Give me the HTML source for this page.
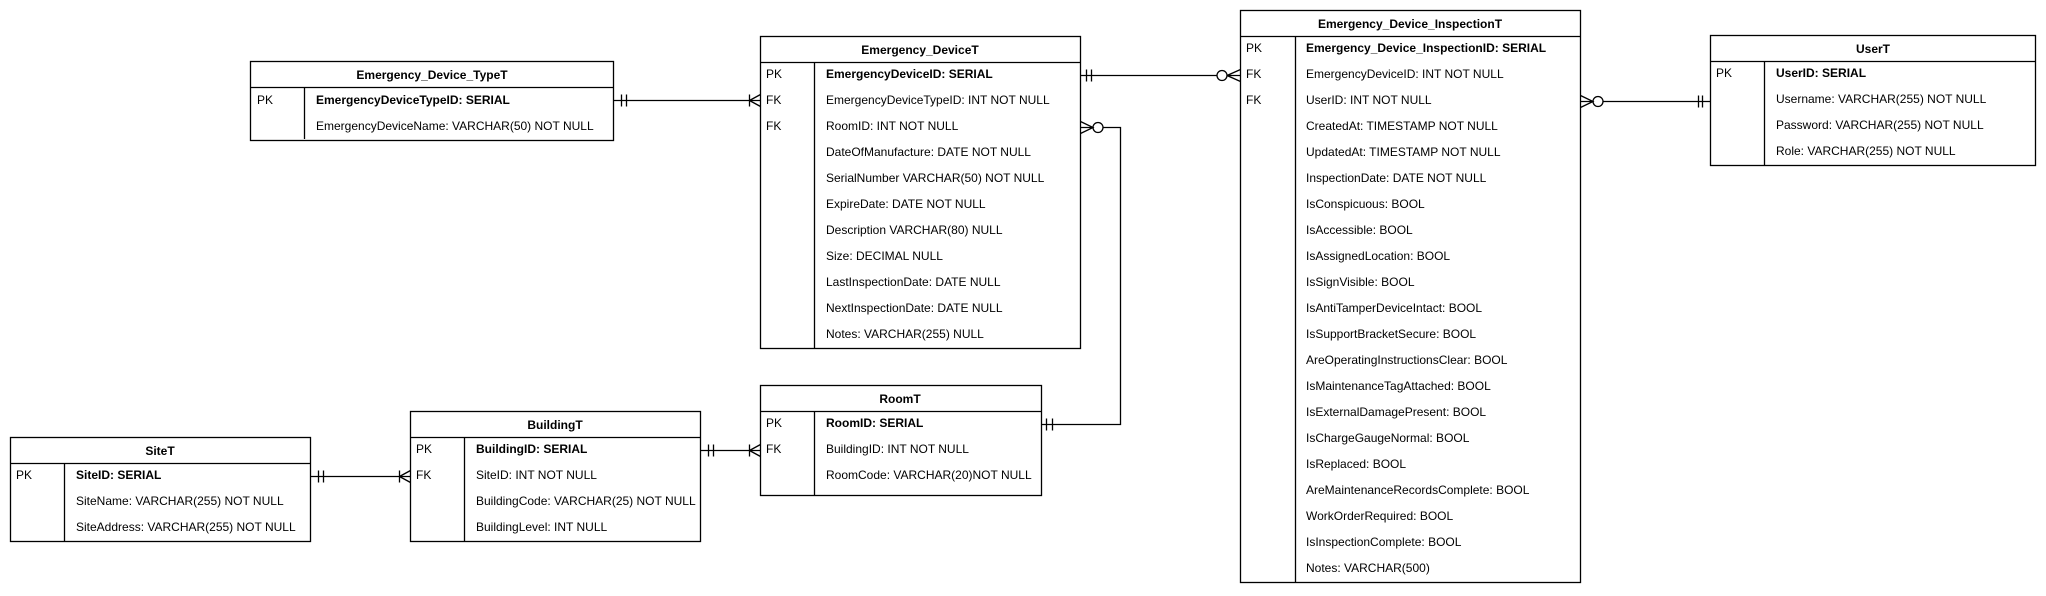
<!DOCTYPE html>
<html><head><meta charset="utf-8"><style>
html,body{margin:0;padding:0;background:#fff;}
svg{display:block;}
text{font-family:"Liberation Sans",Arial,sans-serif;font-size:12px;fill:#000;}
.b{font-weight:bold;}
</style></head><body>
<svg width="2046" height="596" viewBox="0 0 2046 596" xmlns="http://www.w3.org/2000/svg">
<g fill="none" stroke="#000" stroke-width="1.3">
<!-- Emergency_Device_TypeT -->
<rect x="250.5" y="61.5" width="363" height="79"/>
<line x1="250.5" y1="87.5" x2="613.5" y2="87.5"/>
<line x1="304.5" y1="87.5" x2="304.5" y2="139"/>
<!-- Emergency_DeviceT -->
<rect x="760.5" y="36.5" width="320" height="312"/>
<line x1="760.5" y1="62.5" x2="1080.5" y2="62.5"/>
<line x1="814.5" y1="62.5" x2="814.5" y2="348.5"/>
<!-- RoomT -->
<rect x="760.5" y="385.5" width="281" height="110"/>
<line x1="760.5" y1="411.5" x2="1041.5" y2="411.5"/>
<line x1="814.5" y1="411.5" x2="814.5" y2="495.5"/>
<!-- BuildingT -->
<rect x="410.5" y="411.5" width="290" height="130"/>
<line x1="410.5" y1="437.5" x2="700.5" y2="437.5"/>
<line x1="464.5" y1="437.5" x2="464.5" y2="541.5"/>
<!-- SiteT -->
<rect x="10.5" y="437.5" width="300" height="104"/>
<line x1="10.5" y1="463.5" x2="310.5" y2="463.5"/>
<line x1="64.5" y1="463.5" x2="64.5" y2="541.5"/>
<!-- InspectionT -->
<rect x="1240.5" y="10.5" width="340" height="572"/>
<line x1="1240.5" y1="36.5" x2="1580.5" y2="36.5"/>
<line x1="1295.5" y1="36.5" x2="1295.5" y2="582.5"/>
<!-- UserT -->
<rect x="1710.5" y="35.5" width="325" height="130"/>
<line x1="1710.5" y1="61.5" x2="2035.5" y2="61.5"/>
<line x1="1764.5" y1="61.5" x2="1764.5" y2="165.5"/>

<!-- connector 1 TypeT -> DeviceT -->
<line x1="613.5" y1="100.5" x2="760.5" y2="100.5"/>
<line x1="621.5" y1="94.5" x2="621.5" y2="106.5"/><line x1="626.5" y1="94.5" x2="626.5" y2="106.5"/>
<line x1="749.5" y1="94.5" x2="749.5" y2="106.5"/>
<path d="M749.5 100.5 L760.5 94.5 M749.5 100.5 L760.5 106.5"/>
<!-- connector 2 DeviceT -> InspectionT -->
<line x1="1080.5" y1="75.5" x2="1217" y2="75.5"/>
<line x1="1086.5" y1="69.5" x2="1086.5" y2="81.5"/><line x1="1091.5" y1="69.5" x2="1091.5" y2="81.5"/>
<circle cx="1222" cy="75.5" r="5"/>
<path d="M1227 75.5 L1240.5 69.5 M1227 75.5 L1240.5 75.5 M1227 75.5 L1240.5 81.5"/>
<!-- connector 3 DeviceT RoomID -> RoomT -->
<path d="M1080.5 121.5 L1093 127.5 L1080.5 133.5 M1080.5 127.5 L1093 127.5"/>
<circle cx="1098" cy="127.5" r="5"/>
<path d="M1103 127.5 L1120.5 127.5 L1120.5 424.5 L1041.5 424.5"/>
<line x1="1046.5" y1="418.5" x2="1046.5" y2="430.5"/><line x1="1052.5" y1="418.5" x2="1052.5" y2="430.5"/>
<!-- connector 4 BuildingT -> RoomT -->
<line x1="700.5" y1="450.5" x2="760.5" y2="450.5"/>
<line x1="708.5" y1="444.5" x2="708.5" y2="456.5"/><line x1="713.5" y1="444.5" x2="713.5" y2="456.5"/>
<line x1="749.5" y1="444.5" x2="749.5" y2="456.5"/>
<path d="M749.5 450.5 L760.5 444.5 M749.5 450.5 L760.5 456.5"/>
<!-- connector 5 SiteT -> BuildingT -->
<line x1="310.5" y1="476.5" x2="410.5" y2="476.5"/>
<line x1="318.5" y1="470.5" x2="318.5" y2="482.5"/><line x1="323.5" y1="470.5" x2="323.5" y2="482.5"/>
<line x1="399.5" y1="470.5" x2="399.5" y2="482.5"/>
<path d="M399.5 476.5 L410.5 470.5 M399.5 476.5 L410.5 482.5"/>
<!-- connector 6 InspectionT -> UserT -->
<path d="M1580.5 95.5 L1593 101.5 L1580.5 107.5 M1580.5 101.5 L1593 101.5"/>
<circle cx="1598" cy="101.5" r="5"/>
<line x1="1603" y1="101.5" x2="1710.5" y2="101.5"/>
<line x1="1698.5" y1="95.5" x2="1698.5" y2="107.5"/><line x1="1702.5" y1="95.5" x2="1702.5" y2="107.5"/>
</g>

<!-- TypeT text -->
<text class="b" x="432" y="79" text-anchor="middle">Emergency_Device_TypeT</text>
<text x="257" y="104">PK</text>
<text class="b" x="316" y="104">EmergencyDeviceTypeID: SERIAL</text>
<text x="316" y="130">EmergencyDeviceName: VARCHAR(50) NOT NULL</text>

<!-- DeviceT text -->
<text class="b" x="920" y="54" text-anchor="middle">Emergency_DeviceT</text>
<text x="766" y="78">PK</text><text x="766" y="104">FK</text><text x="766" y="130">FK</text>
<text class="b" x="826" y="78">EmergencyDeviceID: SERIAL</text>
<text x="826" y="104">EmergencyDeviceTypeID: INT NOT NULL</text>
<text x="826" y="130">RoomID: INT NOT NULL</text>
<text x="826" y="156">DateOfManufacture: DATE NOT NULL</text>
<text x="826" y="182">SerialNumber VARCHAR(50) NOT NULL</text>
<text x="826" y="208">ExpireDate: DATE NOT NULL</text>
<text x="826" y="234">Description VARCHAR(80) NULL</text>
<text x="826" y="260">Size: DECIMAL NULL</text>
<text x="826" y="286">LastInspectionDate: DATE NULL</text>
<text x="826" y="312">NextInspectionDate: DATE NULL</text>
<text x="826" y="338">Notes: VARCHAR(255) NULL</text>

<!-- RoomT -->
<text class="b" x="900" y="403" text-anchor="middle">RoomT</text>
<text x="766" y="427">PK</text><text x="766" y="453">FK</text>
<text class="b" x="826" y="427">RoomID: SERIAL</text>
<text x="826" y="453">BuildingID: INT NOT NULL</text>
<text x="826" y="479">RoomCode: VARCHAR(20)NOT NULL</text>

<!-- BuildingT -->
<text class="b" x="555" y="429" text-anchor="middle">BuildingT</text>
<text x="416" y="453">PK</text><text x="416" y="479">FK</text>
<text class="b" x="476" y="453">BuildingID: SERIAL</text>
<text x="476" y="479">SiteID: INT NOT NULL</text>
<text x="476" y="505">BuildingCode: VARCHAR(25) NOT NULL</text>
<text x="476" y="531">BuildingLevel: INT NULL</text>

<!-- SiteT -->
<text class="b" x="160" y="455" text-anchor="middle">SiteT</text>
<text x="16" y="479">PK</text>
<text class="b" x="76" y="479">SiteID: SERIAL</text>
<text x="76" y="505">SiteName: VARCHAR(255) NOT NULL</text>
<text x="76" y="531">SiteAddress: VARCHAR(255) NOT NULL</text>

<!-- InspectionT -->
<text class="b" x="1410" y="28" text-anchor="middle">Emergency_Device_InspectionT</text>
<text x="1246" y="52">PK</text><text x="1246" y="78">FK</text><text x="1246" y="104">FK</text>
<text class="b" x="1306" y="52">Emergency_Device_InspectionID: SERIAL</text>
<text x="1306" y="78">EmergencyDeviceID: INT NOT NULL</text>
<text x="1306" y="104">UserID: INT NOT NULL</text>
<text x="1306" y="130">CreatedAt: TIMESTAMP NOT NULL</text>
<text x="1306" y="156">UpdatedAt: TIMESTAMP NOT NULL</text>
<text x="1306" y="182">InspectionDate: DATE NOT NULL</text>
<text x="1306" y="208">IsConspicuous: BOOL</text>
<text x="1306" y="234">IsAccessible: BOOL</text>
<text x="1306" y="260">IsAssignedLocation: BOOL</text>
<text x="1306" y="286">IsSignVisible: BOOL</text>
<text x="1306" y="312">IsAntiTamperDeviceIntact: BOOL</text>
<text x="1306" y="338">IsSupportBracketSecure: BOOL</text>
<text x="1306" y="364">AreOperatingInstructionsClear: BOOL</text>
<text x="1306" y="390">IsMaintenanceTagAttached: BOOL</text>
<text x="1306" y="416">IsExternalDamagePresent: BOOL</text>
<text x="1306" y="442">IsChargeGaugeNormal: BOOL</text>
<text x="1306" y="468">IsReplaced: BOOL</text>
<text x="1306" y="494">AreMaintenanceRecordsComplete: BOOL</text>
<text x="1306" y="520">WorkOrderRequired: BOOL</text>
<text x="1306" y="546">IsInspectionComplete: BOOL</text>
<text x="1306" y="572">Notes: VARCHAR(500)</text>

<!-- UserT -->
<text class="b" x="1873" y="53" text-anchor="middle">UserT</text>
<text x="1716" y="77">PK</text>
<text class="b" x="1776" y="77">UserID: SERIAL</text>
<text x="1776" y="103">Username: VARCHAR(255) NOT NULL</text>
<text x="1776" y="129">Password: VARCHAR(255) NOT NULL</text>
<text x="1776" y="155">Role: VARCHAR(255) NOT NULL</text>
</svg>
</body></html>
